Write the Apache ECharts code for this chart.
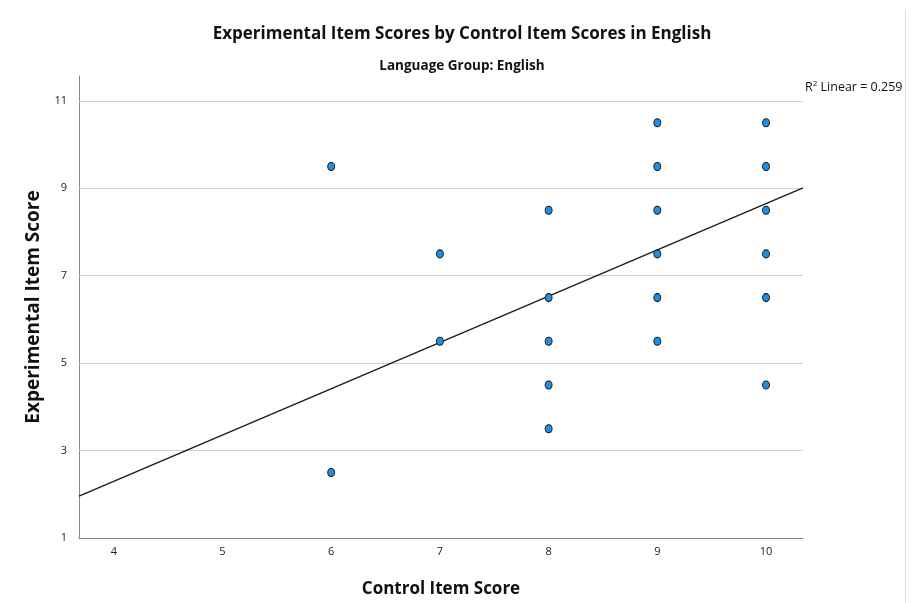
<!DOCTYPE html>
<html>
<head>
<meta charset="utf-8">
<script src="https://cdn.jsdelivr.net/npm/echarts@6/dist/echarts.min.js"></script>
<style>
html,body{margin:0;padding:0;background:#fff;}
#chart{width:914px;height:603px;}
</style>
</head>
<body>
<div id="chart"></div>
<script>
// ---- data ----
const controlScores = [6, 6, 7, 7, 8, 8, 8, 8, 8, 9, 9, 9, 9, 9, 9, 10, 10, 10, 10, 10, 10];
const experimentalScores = [9.5, 2.5, 7.5, 5.5, 8.5, 6.5, 5.5, 4.5, 3.5, 10.5, 9.5, 8.5, 7.5, 6.5, 5.5, 10.5, 9.5, 8.5, 7.5, 6.5, 4.5];
const yTickLabels = [1, 3, 5, 7, 9, 11];
const xTickLabels = [4, 5, 6, 7, 8, 9, 10];
const fitIntercept = -1.94;
const fitSlope = 1.059;
const r2Value = '0.259';

const xMin = 3.68, xMax = 10.34, yMin = 1, yMax = 11.57;

const points = controlScores.map((x, i) => [x, experimentalScores[i]]);
const fitLine = [xMin, xMax].map(x => [x, fitIntercept + fitSlope * x]);

const font = "'Open Sans',sans-serif";

const chart = echarts.init(document.getElementById('chart'));
chart.setOption({
  animation: false,
  backgroundColor: '#fff',
  title: [
    {text: 'Experimental Item Scores by Control Item Scores in English', left: 457, top: 21, textAlign: 'center',
     textStyle: {fontFamily: font, fontSize: 17, fontWeight: 'bold', color: '#111'}},
    {text: 'Language Group: English', left: 457, top: 54, textAlign: 'center',
     textStyle: {fontFamily: font, fontSize: 13.5, fontWeight: 'bold', color: '#111'}}
  ],
  grid: {left: 79, right: 111, top: 76, bottom: 65, containLabel: false},
  xAxis: {
    type: 'value', min: xMin, max: xMax,
    name: 'Control Item Score', nameLocation: 'middle', nameGap: 43,
    nameTextStyle: {fontFamily: font, fontSize: 17, fontWeight: 'bold', color: '#111'},
    axisLine: {show: true, lineStyle: {color: '#888', width: 1}},
    axisTick: {show: false},
    splitLine: {show: false},
    axisLabel: {show: false}
  },
  yAxis: {
    type: 'value', min: yMin, max: yMax, interval: 1,
    name: 'Experimental Item Score', nameLocation: 'middle', nameGap: 33, nameRotate: 90,
    nameTextStyle: {fontFamily: font, fontSize: 19, fontWeight: 'bold', color: '#111'},
    axisLine: {show: true, lineStyle: {color: '#888', width: 1}},
    axisTick: {show: false},
    splitLine: {show: false},
    axisLabel: {
      fontFamily: font, fontSize: 11, color: '#222', margin: 12,
      formatter: v => (yTickLabels.indexOf(Math.round(v * 100) / 100) >= 0 ? String(v) : '')
    }
  },
  series: [
    {
      type: 'scatter', data: points, symbolSize: [7, 8], z: 6,
      itemStyle: {color: '#1e8fe3', borderColor: '#1a1a1a', borderWidth: 1, opacity: 1},
      markLine: {
        silent: true, symbol: 'none', label: {show: false}, animation: false, z: 1,
        lineStyle: {color: '#cfcfcf', width: 1.2, type: 'solid'},
        data: yTickLabels.filter(v => v > yMin).map(v => ({yAxis: v}))
      }
    },
    {
      type: 'line', data: fitLine, symbol: 'none', z: 5,
      lineStyle: {color: '#1a1a1a', width: 1.3},
      clip: true,
      // x tick labels placed at integer positions via the axis scale
      markLine: {
        silent: true, symbol: 'none', animation: false, z: 1,
        lineStyle: {color: 'rgba(255,255,255,0)', width: 1, type: 'solid'},
        label: {show: true, position: 'start', distance: 8,
                formatter: p => String(p.data.xAxis),
                fontFamily: font, fontSize: 11, color: '#222'},
        data: xTickLabels.map(v => ({xAxis: v}))
      }
    }
  ],
  graphic: [
    {type: 'text', left: 805, top: 80,
     style: {text: 'R{sup|2} Linear = ' + r2Value, font: "12.5px " + font, fill: '#111',
              rich: {sup: {fontSize: 8, verticalAlign: 'top', padding: [0, 0, 6, 0], fontFamily: font, fill: '#111'}}}},
    {type: 'line', shape: {x1: 905.5, y1: 10, x2: 905.5, y2: 603},
     style: {stroke: '#dcdcdc', lineWidth: 1}}
  ]
});
</script>
</body>
</html>
